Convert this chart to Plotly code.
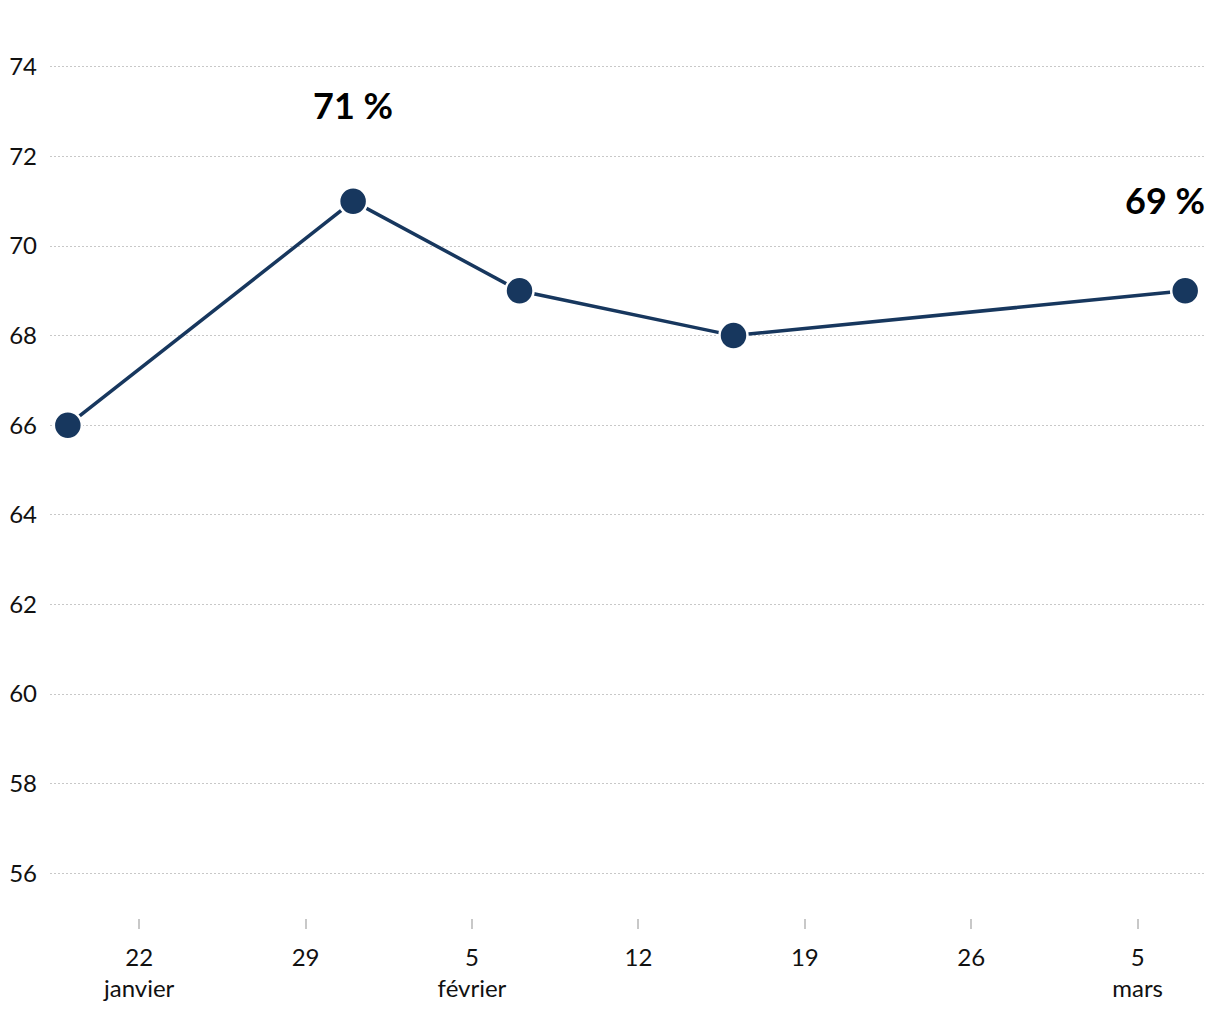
import plotly.graph_objects as go

dates = ["2023-01-19", "2023-01-31", "2023-02-07", "2023-02-16", "2023-03-07"]
values = [66, 71, 69, 68, 69]

tick_vals = ["2023-01-22", "2023-01-29", "2023-02-05", "2023-02-12", "2023-02-19", "2023-02-26", "2023-03-05"]
tick_text = ["22<br>janvier", "29", "5<br>février", "12", "19", "26", "5<br>mars"]

label_idx = [1, 4]
label_text = ["71 %", "69 %"]
label_y = [73.15, 71.03]
label_shift = [0, -20]

FONT = "Lato"
NAVY = "#17375e"

fig = go.Figure()
fig.add_trace(go.Scatter(
    x=dates, y=values, mode="lines+markers",
    line=dict(color=NAVY, width=3.5),
    marker=dict(size=28, color=NAVY, line=dict(color="white", width=2.5)),
    hoverinfo="x+y", showlegend=False, cliponaxis=False,
))

for i, t, ly, sx in zip(label_idx, label_text, label_y, label_shift):
    fig.add_annotation(x=dates[i], y=ly, text=f"<b>{t}</b>", showarrow=False,
                       xshift=sx, font=dict(family=FONT, size=36, color="black"))

fig.update_layout(
    width=1220, height=1020,
    margin=dict(l=50, r=15, t=22, b=102),
    paper_bgcolor="white", plot_bgcolor="white",
    font=dict(family=FONT, size=24, color="#111"),
)
fig.update_xaxes(
    type="date", range=["2023-01-18 06:00", "2023-03-07 20:00"],
    tickmode="array", tickvals=tick_vals, ticktext=tick_text,
    ticks="outside", ticklen=10, tickcolor="#c8c8c8", tickwidth=1.5,
    ticklabelstandoff=8, automargin=False,
    showgrid=False, zeroline=False, showline=False,
    tickfont=dict(family=FONT, size=24, color="#111"),
)
fig.update_yaxes(
    range=[55, 75], tickvals=list(range(56, 75, 2)),
    showgrid=True, gridcolor="#c8c8c8", griddash="2px,2px", gridwidth=1,
    zeroline=False, showline=False, ticks="",
    ticklabelstandoff=12, automargin=False,
    tickfont=dict(family=FONT, size=24, color="#111"),
)

fig.write_html("out.html")
